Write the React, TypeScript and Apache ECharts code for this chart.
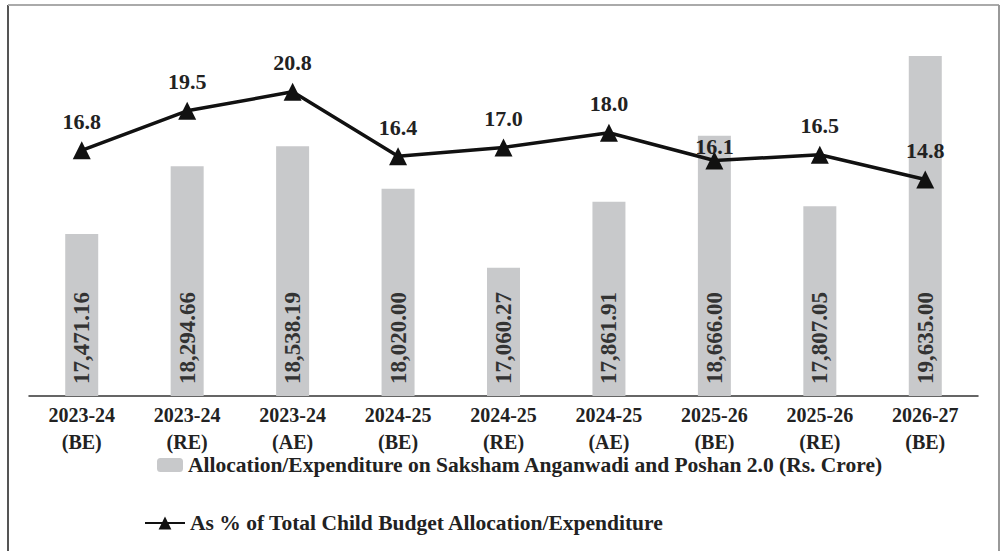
import React, { useEffect, useRef } from "react";
import * as echarts from "echarts";

const categories = [
  "2023-24\n(BE)", "2023-24\n(RE)", "2023-24\n(AE)",
  "2024-25\n(BE)", "2024-25\n(RE)", "2024-25\n(AE)",
  "2025-26\n(BE)", "2025-26\n(RE)", "2026-27\n(BE)",
];
const allocation = [17471.16, 18294.66, 18538.19, 18020.0, 17060.27, 17861.91, 18666.0, 17807.05, 19635.0];
const sharePct = [16.8, 19.5, 20.8, 16.4, 17.0, 18.0, 16.1, 16.5, 14.8];
const barName = "Allocation/Expenditure on Saksham Anganwadi and Poshan 2.0 (Rs. Crore)";
const lineName = "As % of Total Child Budget Allocation/Expenditure";

const FONT = "'Liberation Serif', 'Times New Roman', serif";

export default function App() {
  const ref = useRef<HTMLDivElement>(null);
  useEffect(() => {
    if (!ref.current) return;
    const chart = echarts.init(ref.current, null, { renderer: "svg" });
    chart.setOption({
      animation: false,
      backgroundColor: "#ffffff",
      textStyle: { fontFamily: FONT },
      graphic: [
        { type: "line", shape: { x1: 8, y1: 5, x2: 8, y2: 551 }, style: { stroke: "#555", lineWidth: 2 } },
        { type: "line", shape: { x1: 8, y1: 5, x2: 999, y2: 5 }, style: { stroke: "#aaa", lineWidth: 2 } },
        { type: "line", shape: { x1: 999, y1: 5, x2: 999, y2: 551 }, style: { stroke: "#999", lineWidth: 2 } },
      ],
      legend: [
        {
          data: [barName],
          left: 152,
          top: 449,
          itemWidth: 26,
          itemHeight: 14,
          textStyle: { fontFamily: FONT, fontWeight: "bold", fontSize: 21.5, color: "#222" },
        },
        {
          data: [lineName],
          left: 139,
          top: 507,
          itemWidth: 40,
          itemHeight: 16,
          textStyle: { fontFamily: FONT, fontWeight: "bold", fontSize: 21.5, color: "#222" },
        },
      ],
      grid: { left: 29, right: 23, top: 26, bottom: 155 },
      xAxis: {
        type: "category",
        data: categories,
        axisTick: { show: false },
        axisLine: { lineStyle: { color: "#333", width: 1.5 } },
        axisLabel: {
          margin: 5,
          fontFamily: FONT,
          fontWeight: "bold",
          fontSize: 20,
          lineHeight: 27,
          color: "#222",
        },
      },
      yAxis: [
        { type: "value", min: 15500, max: 20000, show: false, splitLine: { show: false } },
        { type: "value", min: 0, max: 25.3, show: false, splitLine: { show: false } },
      ],
      series: [
        {
          name: barName,
          type: "bar",
          data: allocation,
          barWidth: 33,
          itemStyle: { color: "#c8c9cb" },
          label: {
            show: true,
            position: "insideBottom",
            rotate: 90,
            align: "left",
            verticalAlign: "middle",
            distance: 12,
            fontFamily: FONT,
            fontWeight: "bold",
            fontSize: 23,
            color: "#333",
            formatter: (p: any) =>
              Number(p.value).toLocaleString("en-US", { minimumFractionDigits: 2, maximumFractionDigits: 2 }),
          },
        },
        {
          name: lineName,
          type: "line",
          yAxisIndex: 1,
          data: sharePct.map((v, i) =>
            i === 6 ? { value: v, label: { distance: -6 } } : v
          ),
          symbol: "triangle",
          symbolSize: 18,
          lineStyle: { color: "#111", width: 3.5 },
          itemStyle: { color: "#111" },
          label: {
            show: true,
            position: "top",
            distance: 9,
            fontFamily: FONT,
            fontWeight: "bold",
            fontSize: 22,
            color: "#222",
            formatter: (p: any) => Number(p.value).toFixed(1),
          },
        },
      ],
    });
    return () => chart.dispose();
  }, []);
  return <div ref={ref} style={{ width: 1001, height: 551, position: "absolute", left: 0, top: 0 }} />;
}
